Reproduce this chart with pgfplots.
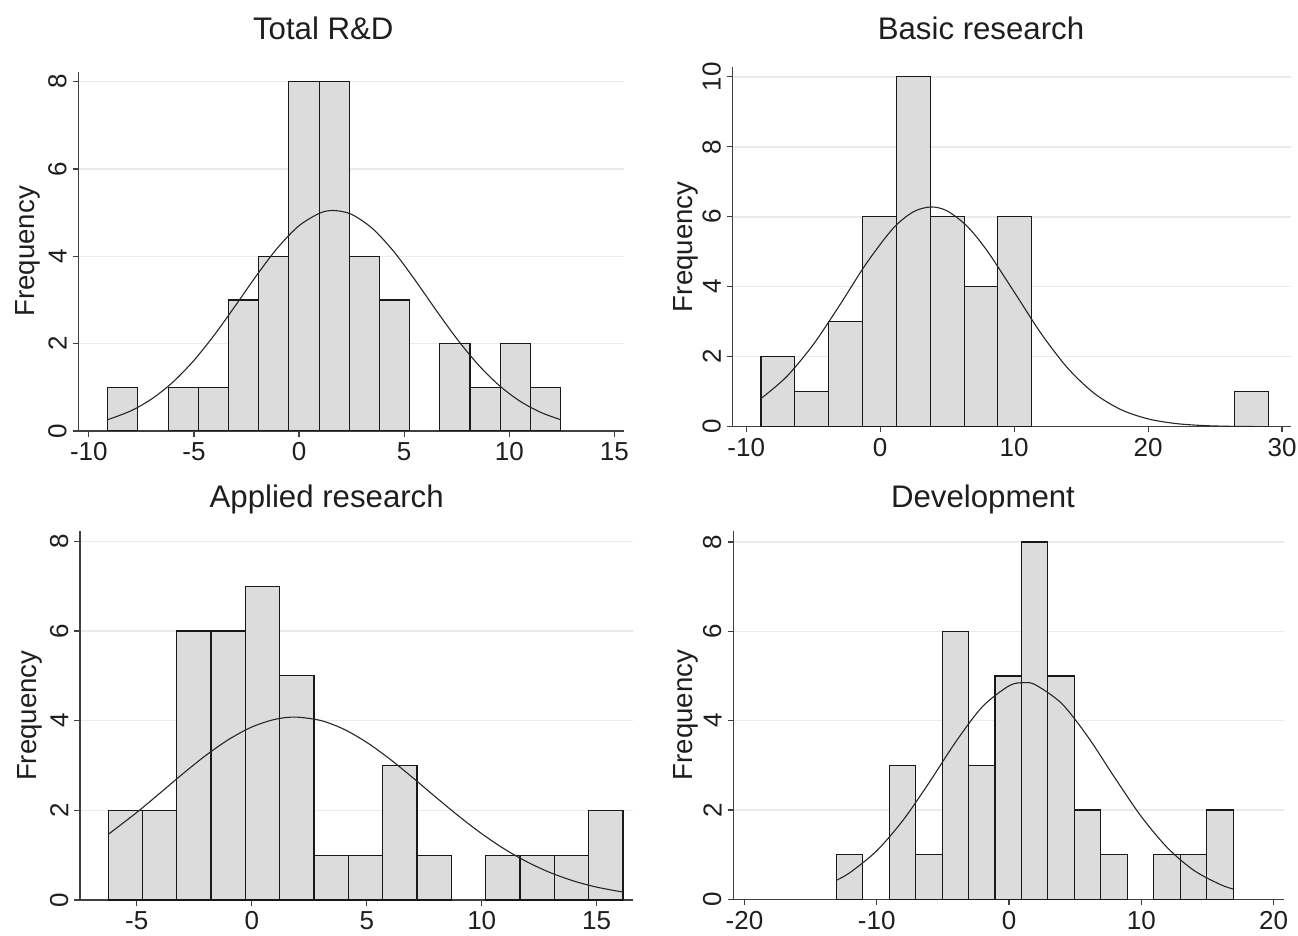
\documentclass[border=0pt]{standalone}
\usepackage{pgfplots}
\pgfplotsset{compat=1.18}
\usepackage{fontspec}
\setmainfont{Liberation Sans}
\definecolor{barfill}{RGB}{220,220,220}
\definecolor{gridc}{RGB}{234,234,234}
\definecolor{txt}{RGB}{30,30,30}
\pgfplotsset{
  hstyle/.style={
    scale only axis,
    axis lines=left,
    axis line style={-, black!75, line width=0.6pt},
    ymin=0,
    tick align=outside,
    major tick length=2.85pt,
    tick style={black!75, line width=0.6pt},
    ymajorgrids,
    grid style={gridc, line width=0.75pt},
    xticklabel style={font=\fontsize{13}{15}\selectfont, text=txt, inner sep=2.8pt},
    yticklabel style={font=\fontsize{13}{15}\selectfont, text=txt, rotate=90, anchor=south, inner sep=2.8pt},
    ylabel={Frequency},
    ylabel style={font=\fontsize{13.8}{16}\selectfont, text=txt, anchor=center},
  },
  barst/.style={ybar interval, fill=barfill, draw=black!90, line width=0.55pt},
  curvest/.style={black!85, line width=0.55pt, smooth, no marks},
}
\begin{document}
\begin{tikzpicture}
\path[use as bounding box] (0,0) rectangle (649pt,-468pt);
\node[font=\fontsize{15.6}{18}\selectfont, text=txt, anchor=base] at (161.65pt,-19.65pt) {Total R\&D};
\node[font=\fontsize{15.6}{18}\selectfont, text=txt, anchor=base] at (490.5pt,-19.65pt) {Basic research};
\node[font=\fontsize{15.6}{18}\selectfont, text=txt, anchor=base] at (163.35pt,-253.65pt) {Applied research};
\node[font=\fontsize{15.6}{18}\selectfont, text=txt, anchor=base] at (491.5pt,-253.65pt) {Development};

% Panel 1: Total R&D
\begin{axis}[hstyle, at={(39.15pt,-215.5pt)}, anchor=south west, width=273pt, height=179.65pt,
  xmin=-10.5, xmax=15.47, ymax=8.23,
  xtick={-10,-5,0,5,10,15}, xticklabels={-10,-5,0,5,10,15},
  ytick={0,2,4,6,8}, yticklabels={0,2,4,6,8},
  ylabel style={at={(axis description cs:-0.092,0.5)}}]
\addplot[barst] coordinates {(-9.1,1) (-7.664,1)};
\addplot[barst] coordinates {(-6.228,1) (-4.792,1) (-3.356,3) (-1.92,4) (-0.484,8) (0.952,8) (2.388,4) (3.824,3) (5.26,3)};
\addplot[barst] coordinates {(6.696,2) (8.132,1) (9.568,2) (11.004,1) (12.44,1)};
\addplot[curvest] coordinates {(-9.1,0.259) (-8,0.461) (-7,0.737) (-6,1.120) (-5,1.617) (-4,2.218) (-3,2.890) (-2,3.577) (-1,4.208) (0,4.702) (1,4.993) (1.67,5.05) (2.5,4.962) (3.5,4.635) (4.5,4.114) (5.5,3.469) (6.5,2.780) (7.5,2.116) (8.5,1.530) (9.5,1.051) (10.5,0.686) (11.5,0.426) (12.44,0.259)};
\end{axis}

% Panel 2: Basic research
\begin{axis}[hstyle, at={(366.3pt,-213.35pt)}, anchor=south west, width=279.35pt, height=179.85pt,
  xmin=-11.02, xmax=30.69, ymax=10.28,
  xtick={-10,0,10,20,30}, xticklabels={-10,0,10,20,30},
  ytick={0,2,4,6,8,10}, yticklabels={0,2,4,6,8,10},
  ylabel style={at={(axis description cs:-0.083,0.5)}}]
\addplot[barst] coordinates {(-8.9,2) (-6.373,1) (-3.846,3) (-1.319,6) (1.208,10) (3.735,6) (6.262,4) (8.789,6) (11.316,6)};
\addplot[barst] coordinates {(26.478,1) (29.005,1)};
\addplot[curvest] coordinates {(-8.9,0.805) (-7,1.425) (-5,2.346) (-3,3.488) (-1,4.685) (1,5.684) (2.5,6.146) (3.8,6.28) (5,6.166) (6.5,5.724) (8,5.018) (10,3.852) (12,2.670) (14,1.672) (16,0.946) (18,0.483) (20,0.223) (22,0.093) (24,0.035) (26,0.0119) (28,0.0037) (29.005,0.0019)};
\end{axis}

% Panel 3: Applied research
\begin{axis}[hstyle, at={(40pt,-450pt)}, anchor=south west, width=276.4pt, height=184.25pt,
  xmin=-7.47, xmax=16.57, ymax=8.22,
  xtick={-5,0,5,10,15}, xticklabels={-5,0,5,10,15},
  ytick={0,2,4,6,8}, yticklabels={0,2,4,6,8},
  ylabel style={at={(axis description cs:-0.09,0.5)}}]
\addplot[barst] coordinates {(-6.25,2) (-4.757,2) (-3.264,6) (-1.771,6) (-0.278,7) (1.215,5) (2.708,1) (4.201,1) (5.694,3) (7.187,1) (8.68,1)};
\addplot[barst] coordinates {(10.173,1) (11.666,1) (13.159,1) (14.652,2) (16.145,2)};
\addplot[curvest] coordinates {(-6.25,1.461) (-5,1.954) (-4,2.381) (-3,2.815) (-2,3.225) (-1,3.582) (0,3.858) (1,4.029) (1.9,4.08) (3,4.004) (4,3.811) (5,3.516) (6,3.146) (7,2.729) (8,2.295) (9,1.871) (10,1.479) (11,1.133) (12,0.8425) (13,0.607) (14,0.424) (15,0.287) (16.145,0.1765)};
\end{axis}

% Panel 4: Development
\begin{axis}[hstyle, at={(366.6pt,-449.65pt)}, anchor=south west, width=275.4pt, height=184.25pt,
  xmin=-20.85, xmax=20.79, ymax=8.25,
  xtick={-20,-10,0,10,20}, xticklabels={-20,-10,0,10,20},
  ytick={0,2,4,6,8}, yticklabels={0,2,4,6,8},
  ylabel style={at={(axis description cs:-0.086,0.5)}}]
\addplot[barst] coordinates {(-13.06,1) (-11.06,1)};
\addplot[barst] coordinates {(-9.06,3) (-7.06,1) (-5.06,6) (-3.06,3) (-1.06,5) (0.94,8) (2.94,5) (4.94,2) (6.94,1) (8.94,1)};
\addplot[barst] coordinates {(10.94,1) (12.94,1) (14.94,2) (16.94,2)};
\addplot[curvest] coordinates {(-13.06,0.424) (-12,0.603) (-10,1.086) (-8,1.774) (-6,2.629) (-4,3.536) (-2,4.316) (0,4.779) (1.1,4.85) (2,4.802) (4,4.379) (6,3.623) (8,2.720) (10,1.853) (12,1.146) (14,0.643) (16,0.327) (16.94,0.231)};
\end{axis}
\end{tikzpicture}
\end{document}
